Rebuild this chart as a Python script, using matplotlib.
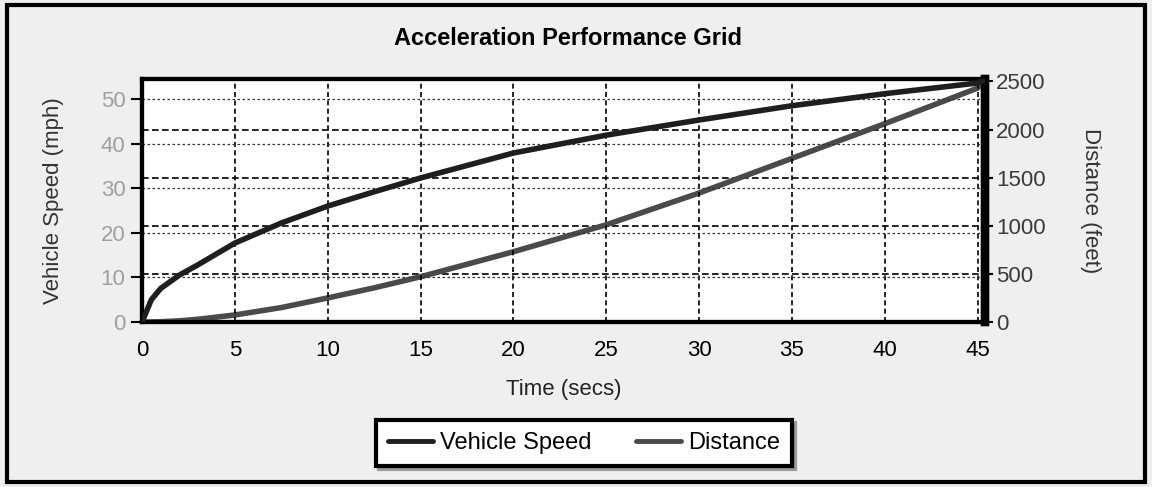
import matplotlib
matplotlib.use("Agg")
import matplotlib.pyplot as plt
from matplotlib.patches import Rectangle

plt.rcParams['font.family'] = ['Liberation Sans', 'DejaVu Sans']

# values
time_s   = [0, 0.5, 1, 2, 3, 5, 7.5, 10, 12.5, 15, 20, 25, 30, 35, 40, 45, 45.4]
speed    = [0, 5.0, 7.5, 10.5, 12.8, 17.7, 22.2, 26.0, 29.2, 32.3, 37.9, 41.9, 45.3, 48.5, 51.2, 53.6, 54.3]
distance = [0, 1, 3, 12, 28, 73, 150, 250, 355, 470, 730, 1010, 1340, 1700, 2060, 2430, 2520]

x_ticks     = [0, 5, 10, 15, 20, 25, 30, 35, 40, 45]
speed_ticks = [0, 10, 20, 30, 40, 50]
dist_ticks  = [0, 500, 1000, 1500, 2000, 2500]

BG = '#efefef'
FS = 16

fig = plt.figure(figsize=(11.52, 4.87), dpi=100, facecolor=BG)
ax = fig.add_axes([0.1233, 0.3388, 0.855 - 0.1233, 0.8378 - 0.3388])
ax2 = ax.twinx()

# grid: vertical + left-axis horizontals + right-axis horizontals
for t in x_ticks:
    ax.axvline(t, color='black', lw=1.2, ls=(0, (3, 2)), zorder=1)
for s in speed_ticks[1:]:
    ax.axhline(s, color='#333333', lw=0.9, ls=(0, (2, 2)), zorder=1)
for d in dist_ticks[1:-1]:
    ax2.axhline(d, color='black', lw=1.2, ls=(0, (4, 2)), zorder=1)

ln1, = ax.plot(time_s, speed, color='#1e1e1e', lw=4, solid_capstyle='round', zorder=3,
               label='Vehicle Speed')
ln2, = ax2.plot(time_s, distance, color='#4a4a4a', lw=4, solid_capstyle='round', zorder=3,
                label='Distance')

ax.set_xlim(0, 45.4)
ax.set_ylim(0, 54.5)
ax2.set_ylim(0, 2525)

ax.set_xticks(x_ticks)
ax.set_yticks(speed_ticks)
ax2.set_yticks(dist_ticks)

ax.tick_params(axis='x', length=0, pad=13, labelsize=FS, labelcolor='black')
ax.tick_params(axis='y', length=8, width=1.5, pad=4, labelsize=FS, labelcolor='#a0a0a0')
ax2.tick_params(axis='y', length=6, width=1.5, pad=2, labelsize=FS, labelcolor='#3a3a3a')

for a in (ax, ax2):
    for side in ('top', 'left', 'bottom'):
        a.spines[side].set_linewidth(3)
    a.spines['right'].set_linewidth(6)

ax.set_xlabel('Time (secs)', fontsize=FS, color='#222222', labelpad=13)
ax.set_ylabel('Vehicle Speed (mph)', fontsize=FS, color='#333333', labelpad=26)
ax2.set_ylabel('Distance (feet)', fontsize=FS, color='#333333', rotation=270, labelpad=40)
fig.text(0.493, 0.92, 'Acceleration Performance Grid', fontsize=17, fontweight='bold',
         ha='center', va='center')

ax.set_zorder(ax2.get_zorder() + 1)
ax.patch.set_visible(False)
ax2.patch.set_visible(True)
ax2.patch.set_facecolor('white')

leg = fig.legend([ln1, ln2], ['Vehicle Speed', 'Distance'], loc='center',
                 bbox_to_anchor=(0.507, 0.09), ncol=2, fontsize=17, frameon=True,
                 fancybox=False, shadow={'color': '#888888', 'alpha': 0.8},
                 handlelength=1.9, columnspacing=1.9, borderpad=0.5,
                 handletextpad=0.3, borderaxespad=0)
leg.get_frame().set_edgecolor('black')
leg.get_frame().set_linewidth(3)
for h in leg.get_lines():
    h.set_linewidth(3.5)

# outer border around the whole chart
fig.patches.append(Rectangle((0.006, 0.01), 0.988, 0.98, transform=fig.transFigure,
                             fill=False, edgecolor='black', lw=3))

fig.savefig('out.png', dpi=100, facecolor=BG)
